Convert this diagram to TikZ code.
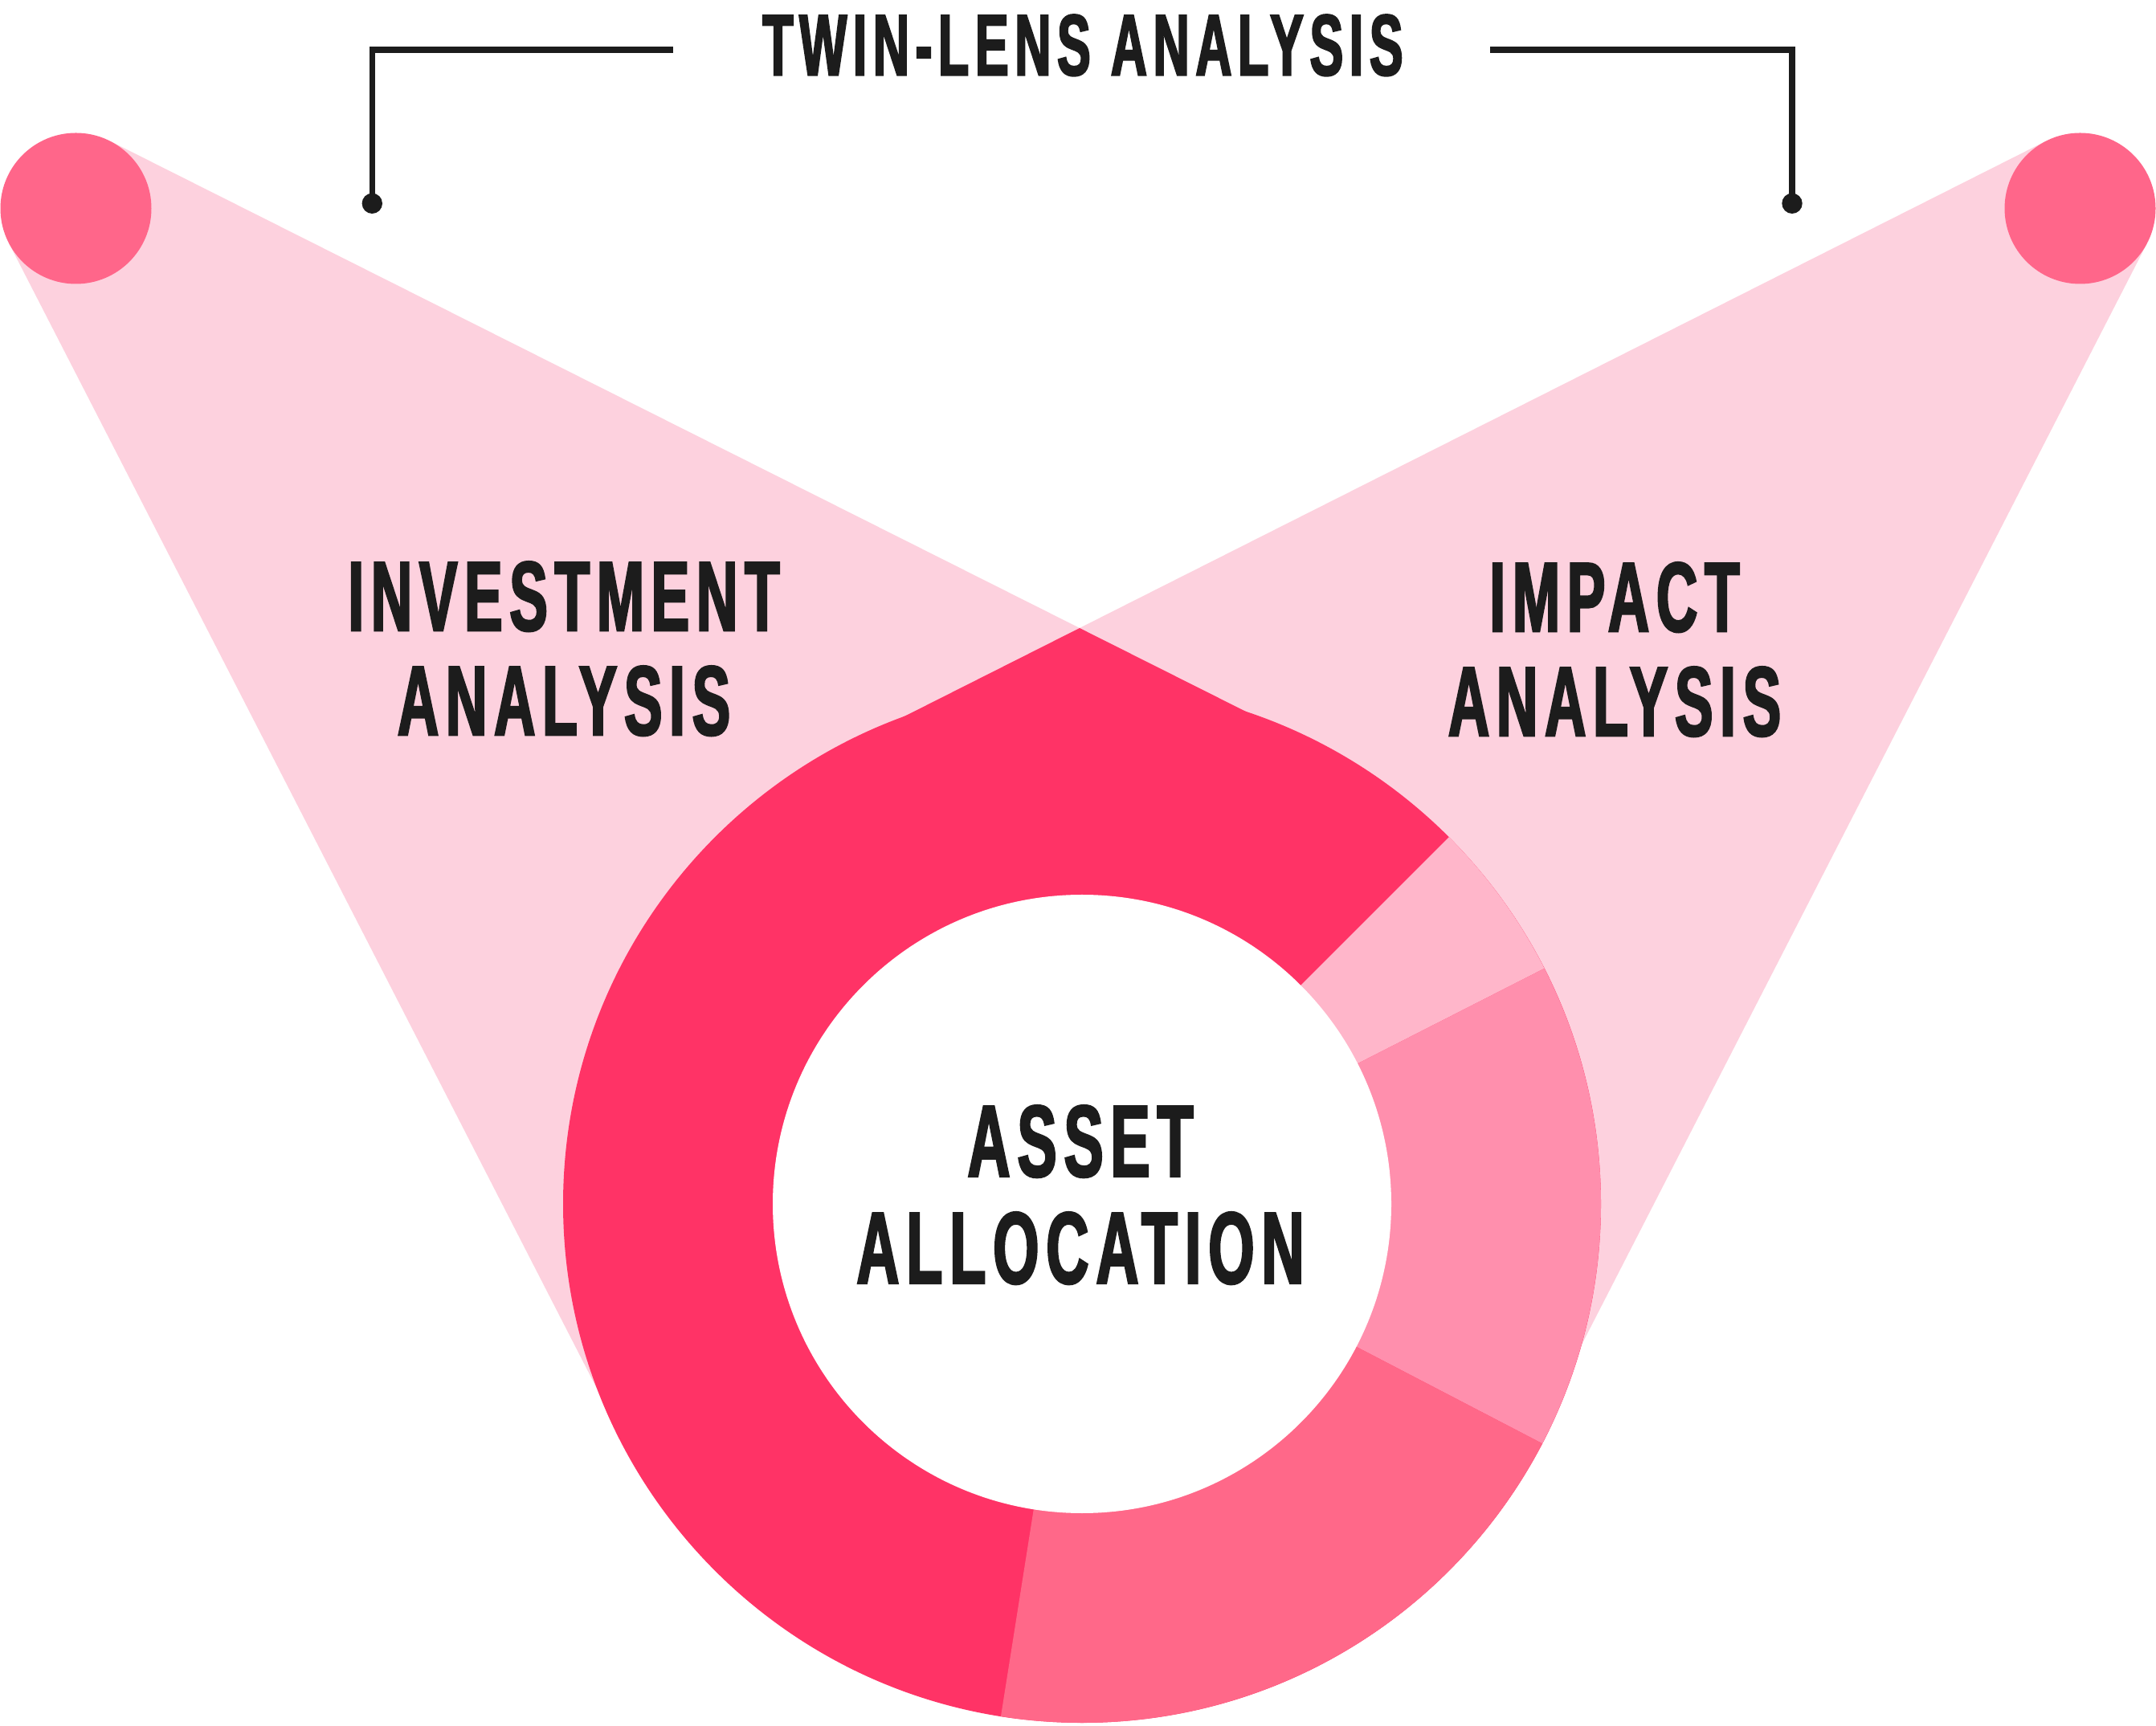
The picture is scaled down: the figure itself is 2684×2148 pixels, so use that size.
\documentclass[tikz,border=0pt]{standalone}
\usepackage{fontspec}
\newfontfamily\labelfont{Liberation Sans}[FakeStretch=0.58,FakeBold=2,LetterSpace=7]
\usetikzlibrary{calc}
\definecolor{beam}{HTML}{FDD1DE}
\definecolor{lens}{HTML}{FF668A}
\definecolor{segA}{HTML}{FF3366}
\definecolor{segB}{HTML}{FFB6CA}
\definecolor{segC}{HTML}{FF8FAD}
\definecolor{segD}{HTML}{FF6889}
\definecolor{ink}{HTML}{1C1C1C}
\begin{document}
\begin{tikzpicture}[x=1pt,y=1pt,
  lensdot/.style={circle,fill=lens,draw=none,minimum size=188pt,inner sep=0pt,outer sep=0pt},
  pin/.style={circle,fill=ink,draw=none,minimum size=25.4pt,inner sep=0pt,outer sep=0pt},
  bracket/.style={draw=ink,line width=7.5pt},
  lbl/.style={text=ink,align=center,inner sep=0pt,anchor=north},
]
\useasboundingbox (0,0) rectangle (2684,2148);
\fill[white] (0,0) rectangle (2684,2148);

\coordinate (D) at (1347,649);
\coordinate (P) at (1344,1366);
% left beam
\coordinate (T1u) at (136.7,1972.5);
\coordinate (T1l) at (10.9,1845.6);
\coordinate (E1) at (1650,1212.3);
\coordinate (Q1) at (770,366.7);
% right beam
\coordinate (T2u) at (2547.3,1972.5);
\coordinate (T2l) at (2673.1,1845.6);
\coordinate (E2) at (1040,1212.8);
\coordinate (Q2) at (1914,366.7);

\fill[beam] (T1u) -- (E1) -- (D) -- (Q1) -- (T1l) -- cycle;
\fill[beam] (T2u) -- (E2) -- (D) -- (Q2) -- (T2l) -- cycle;

\node[lensdot] (lensL) at (94.5,1888.5) {};
\node[lensdot] (lensR) at (2589.5,1888.5) {};

% donut
\fill[segA] (D) circle[radius=646];
\fill[segA] (E2) -- (P) -- (E1) -- (D) -- cycle;
\fill[segB] (D) -- ++(27:646) arc[start angle=27,end angle=45,radius=646] -- cycle;
\fill[segC] (D) -- ++(-27.5:646) arc[start angle=-27.5,end angle=27,radius=646] -- cycle;
\fill[segD] (D) -- ++(-99:646) arc[start angle=-99,end angle=-27.5,radius=646] -- cycle;
\fill[white] (D) circle[radius=385];

% labels
\node[lbl,font=\labelfont\bfseries\fontsize{108}{108}\selectfont] (title) at (1348,2130) {TWIN-LENS ANALYSIS};
\node[lbl,font=\labelfont\bfseries\fontsize{123}{130}\selectfont] (inv) at (702,1449) {INVESTMENT\\ANALYSIS};
\node[lbl,font=\labelfont\bfseries\fontsize{123}{130}\selectfont] (imp) at (2010,1448) {IMPACT\\ANALYSIS};
\node[lbl,font=\labelfont\bfseries\fontsize{127}{133}\selectfont] (asset) at (1345,772) {ASSET\\ALLOCATION};

% brackets
\coordinate (bl1) at (838,2086);
\coordinate (bl2) at (463.3,2086);
\coordinate (br1) at (1855,2086);
\coordinate (br2) at (2231,2086);
\node[pin] (pinL) at (463.3,1894.7) {};
\node[pin] (pinR) at (2231,1894.7) {};
\draw[bracket] (bl1) -- (bl2) -- (pinL.center);
\draw[bracket] (br1) -- (br2) -- (pinR.center);
\end{tikzpicture}
\end{document}
